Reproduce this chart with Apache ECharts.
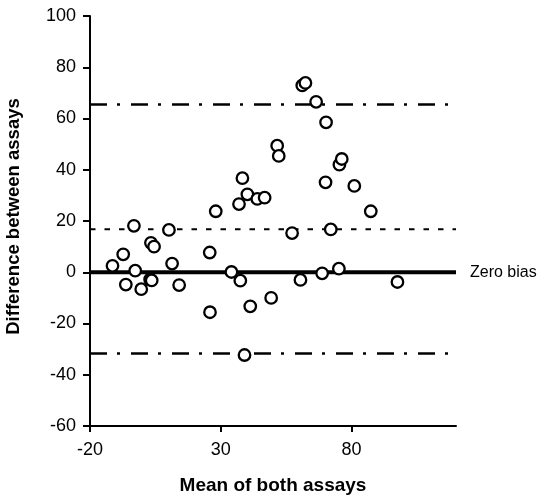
<!DOCTYPE html>
<html>
<head>
<meta charset="utf-8">
<script src="https://cdn.jsdelivr.net/npm/echarts@6/dist/echarts.min.js"></script>
<style>html,body{margin:0;padding:0;background:#fff}#c{width:547px;height:501px}</style>
</head>
<body>
<div id="c"></div>
<script>
// Mean of both assays (x) and difference between assays (y)
var meanVals = [-11.4, -7.3, -6.3, -3.2, -2.7, -0.4, 3.0, 3.6, 3.3, 4.5, 10.2, 11.4, 14.1, 25.8, 25.9, 28.1, 34.1, 37.0, 37.5, 38.3, 39.1, 40.2, 41.3, 44.0, 46.8, 49.3, 51.6, 52.2, 57.3, 60.5, 61.2, 62.4, 66.5, 68.8, 70.1, 70.3, 72.1, 75.2, 75.4, 76.3, 81.1, 87.4, 97.6];
var diffVals = [2.5, 7.0, -4.8, 18.1, 0.6, -6.6, -2.8, -3.2, 11.5, 10.0, 16.5, 3.4, -5.0, 7.7, -15.6, 23.8, 0.1, 26.6, -3.3, 36.7, -32.3, 30.4, -13.3, 28.6, 29.1, -10.0, 49.4, 45.4, 15.3, -3.0, 72.9, 73.9, 66.5, -0.4, 35.1, 58.5, 16.7, 1.4, 42.0, 44.2, 33.7, 23.8, -3.8];
var meanBias = 16.8;
var upperLimit = 65.5;
var lowerLimit = -31.7;
var zeroBias = 0;
var xRange = [-20, 120];
var xTicks = [-20, 30, 80];
var yRange = [-60, 100];
var zeroLabel = 'Zero bias';
var xTitle = 'Mean of both assays';
var yTitle = 'Difference between assays';

var font = "'Liberation Sans', Arial, Helvetica, sans-serif";
var points = meanVals.map(function (x, i) { return [x, diffVals[i]]; });
function hline(v) { return [[xRange[0], v], [xRange[1], v]]; }

var chart = echarts.init(document.getElementById('c'), null, {renderer: 'canvas'});
chart.setOption({
  animation: false,
  backgroundColor: '#fff',
  grid: {left: 90, right: 91, top: 16, bottom: 75, containLabel: false, outerBoundsMode: 'none'},
  xAxis: {
    type: 'value', min: xRange[0], max: xRange[1],
    name: xTitle, nameLocation: 'middle', nameGap: 50,
    nameTextStyle: {fontFamily: font, fontSize: 19, fontWeight: 'bold', color: '#000'},
    axisLine: {show: true, onZero: false, lineStyle: {color: '#000', width: 2}},
    axisTick: {show: true, length: 6, lineStyle: {color: '#000', width: 2}, customValues: xTicks},
    axisLabel: {fontFamily: font, fontSize: 18, color: '#000', margin: 15, customValues: xTicks},
    splitLine: {show: false}
  },
  yAxis: {
    type: 'value', min: yRange[0], max: yRange[1], interval: 20,
    name: yTitle, nameLocation: 'middle', nameGap: 67,
    nameTextStyle: {fontFamily: font, fontSize: 18.5, fontWeight: 'bold', color: '#000', padding: [0, 0, 0, 9]},
    axisLine: {show: true, onZero: false, lineStyle: {color: '#000', width: 2}},
    axisTick: {show: true, length: 7, lineStyle: {color: '#000', width: 2}},
    axisLabel: {fontFamily: font, fontSize: 18, color: '#000', margin: 14},
    splitLine: {show: false}
  },
  series: [
    {type: 'line', data: hline(zeroBias), symbol: 'none', silent: true, z: 2,
     lineStyle: {color: '#000', width: 4},
     endLabel: {show: true, formatter: zeroLabel, fontFamily: font, fontSize: 16, color: '#000', distance: 14}},
    {type: 'line', data: hline(meanBias), symbol: 'none', silent: true, z: 2,
     lineStyle: {color: '#000', width: 2, type: [5.5, 9]}},
    {type: 'line', data: hline(upperLimit), symbol: 'none', silent: true, z: 2,
     lineStyle: {color: '#000', width: 2.5, type: [17, 10, 3, 11]}},
    {type: 'line', data: hline(lowerLimit), symbol: 'none', silent: true, z: 2,
     lineStyle: {color: '#000', width: 2.5, type: [17, 10, 3, 11]}},
    {type: 'scatter', data: points, symbol: 'circle', symbolSize: 11.5, z: 5,
     itemStyle: {color: '#fff', borderColor: '#000', borderWidth: 2.3, opacity: 1}}
  ]
});
</script>
</body>
</html>
